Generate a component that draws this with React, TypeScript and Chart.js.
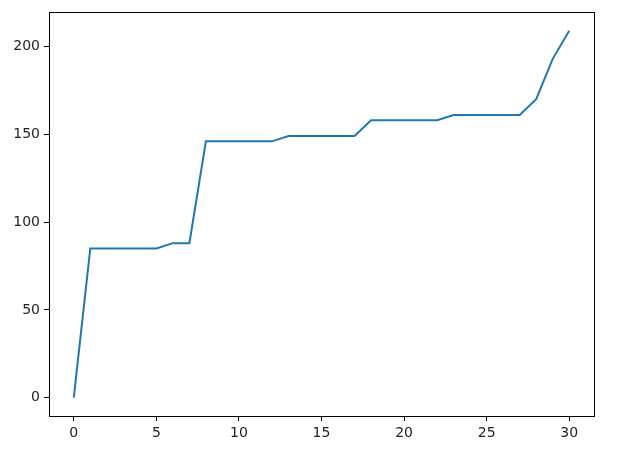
import React, { useEffect, useRef } from "react";
import { Chart, registerables } from "chart.js";

Chart.register(...registerables);

const xValues = [0,1,2,3,4,5,6,7,8,9,10,11,12,13,14,15,16,17,18,19,20,21,22,23,24,25,26,27,28,29,30];
const yValues = [0,85,85,85,85,85,88,88,146,146,146,146,146,149,149,149,149,149,158,158,158,158,158,161,161,161,161,161,170,193,209];
const xTicks = [0,5,10,15,20,25,30];
const yTicks = [0,50,100,150,200];

const frame = {
  id: "frame",
  afterDraw(chart: any) {
    const { ctx, chartArea: a } = chart;
    ctx.save();
    ctx.strokeStyle = "#000";
    ctx.lineWidth = 1;
    ctx.strokeRect(Math.round(a.left) + 0.5, Math.round(a.top) + 0.5, Math.round(a.right - a.left), Math.round(a.bottom - a.top));
    ctx.restore();
  },
};

export default function App() {
  const ref = useRef<HTMLCanvasElement | null>(null);
  useEffect(() => {
    if (!ref.current) return;
    const xmin = Math.min(...xValues), xmax = Math.max(...xValues);
    const ymin = Math.min(...yValues), ymax = Math.max(...yValues);
    const xm = (xmax - xmin) * 0.05, ym = (ymax - ymin) * 0.05;
    const font = { family: "DejaVu Sans", size: 14 };
    const chart = new Chart(ref.current, {
      type: "line",
      data: {
        datasets: [
          {
            data: xValues.map((x, i) => ({ x, y: yValues[i] })),
            borderColor: "#1f77b4",
            borderWidth: 2,
            pointRadius: 0,
            fill: false,
            tension: 0,
          },
        ],
      },
      options: {
        animation: false,
        responsive: false,
        maintainAspectRatio: false,
        layout: { padding: { top: 10, right: 27, left: 0, bottom: 0 } },
        plugins: { legend: { display: false }, tooltip: { enabled: false } },
        scales: {
          x: {
            type: "linear",
            min: xmin - xm,
            max: xmax + xm,
            afterBuildTicks: (s: any) => { s.ticks = xTicks.map((v) => ({ value: v })); },
            afterFit: (s: any) => { s.height = 35; },
            grid: { drawOnChartArea: false, drawTicks: true, tickLength: 5, tickColor: "#000" },
            border: { display: false },
            ticks: { color: "#222", font, padding: 4, maxRotation: 0 },
          },
          y: {
            type: "linear",
            min: ymin - ym,
            max: ymax + ym,
            afterBuildTicks: (s: any) => { s.ticks = yTicks.map((v) => ({ value: v })); },
            afterFit: (s: any) => { s.width = 49; },
            grid: { drawOnChartArea: false, drawTicks: true, tickLength: 5, tickColor: "#000" },
            border: { display: false },
            ticks: { color: "#222", font, padding: 4 },
          },
        },
      },
      plugins: [frame],
    });
    return () => chart.destroy();
  }, []);
  return (
    <div style={{ position: "absolute", left: 0, top: 0, width: 621, height: 451, background: "#fff" }}>
      <canvas ref={ref} width={621} height={451} style={{ width: 621, height: 451 }} />
    </div>
  );
}
